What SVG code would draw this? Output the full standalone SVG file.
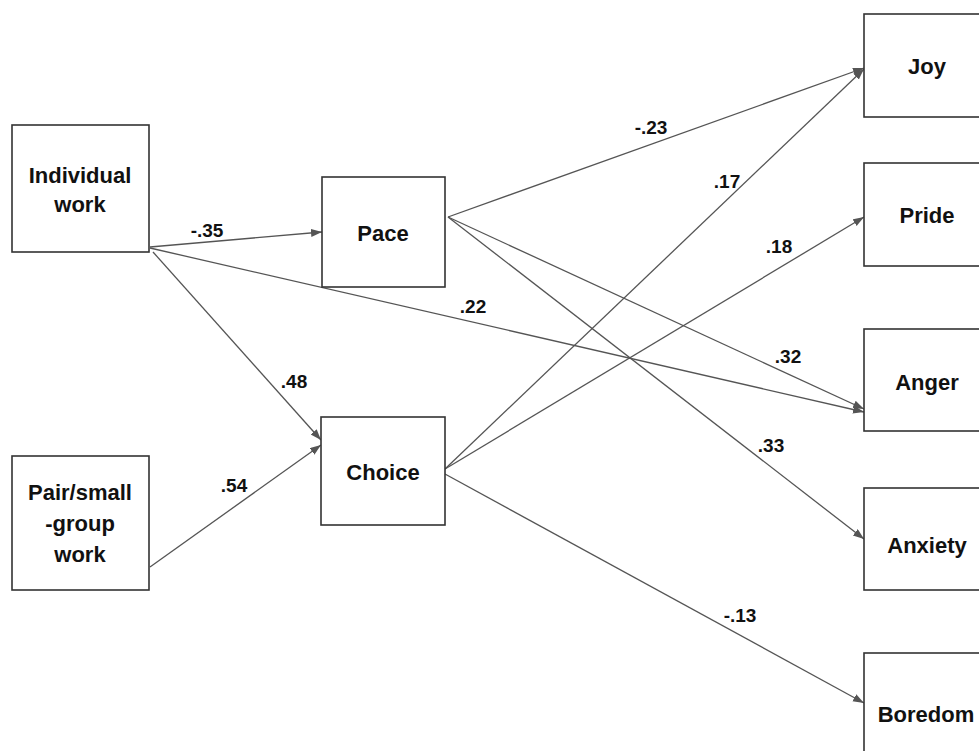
<svg xmlns="http://www.w3.org/2000/svg" width="979" height="751" viewBox="0 0 979 751">
<style>
.box{fill:#fff;stroke:#333;stroke-width:1.6}
.t{font-family:"Liberation Sans",Arial,sans-serif;font-weight:bold;font-size:22px;fill:#111;text-anchor:middle}
.l{font-family:"Liberation Sans",Arial,sans-serif;font-weight:bold;font-size:19px;fill:#111;text-anchor:middle}
.c{stroke:#555;stroke-width:1.3;fill:none}
.ca{stroke:#555;stroke-width:1.3;fill:none;marker-end:url(#ah)}
</style>
<defs>
<marker id="ah" markerUnits="userSpaceOnUse" markerWidth="12" markerHeight="10" refX="11" refY="4" orient="auto">
<path d="M0,0 L11,4 L0,8 Z" fill="#555"/>
</marker>
</defs>
<rect width="979" height="751" fill="#fff"/>
<g id="connectors">
<line class="ca" x1="150" y1="247" x2="322" y2="232"/>
<line class="ca" x1="150" y1="248" x2="864" y2="412"/>
<line class="ca" x1="153" y1="252" x2="321" y2="440"/>
<line class="ca" x1="150" y1="567" x2="321" y2="445"/>
<line class="ca" x1="448" y1="217" x2="864" y2="68"/>
<line class="ca" x1="448" y1="217" x2="864" y2="409"/>
<line class="ca" x1="448" y1="217" x2="864" y2="539"/>
<line class="ca" x1="445" y1="469" x2="864" y2="69"/>
<line class="ca" x1="445" y1="469" x2="864" y2="217"/>
<line class="ca" x1="445" y1="474" x2="864" y2="703"/>
</g>
<g id="labels">
<text class="l" x="207" y="237">-.35</text>
<text class="l" x="473" y="313">.22</text>
<text class="l" x="294" y="388">.48</text>
<text class="l" x="234" y="492">.54</text>
<text class="l" x="651" y="134">-.23</text>
<text class="l" x="727" y="188">.17</text>
<text class="l" x="779" y="253">.18</text>
<text class="l" x="788" y="363">.32</text>
<text class="l" x="771" y="452">.33</text>
<text class="l" x="740" y="622">-.13</text>
</g>
<g id="individual-work">
<rect class="box" x="12" y="125" width="137" height="127"/>
<text class="t" x="80" y="183">Individual</text>
<text class="t" x="80" y="212">work</text>
</g>
<g id="pair-small-group-work">
<rect class="box" x="12" y="456" width="137" height="134"/>
<text class="t" x="80" y="500">Pair/small</text>
<text class="t" x="80" y="531">-group</text>
<text class="t" x="80" y="562">work</text>
</g>
<g id="pace">
<rect class="box" x="322" y="177" width="123" height="110"/>
<text class="t" x="383" y="241">Pace</text>
</g>
<g id="choice">
<rect class="box" x="321" y="417" width="124" height="108"/>
<text class="t" x="383" y="480">Choice</text>
</g>
<g id="joy">
<rect class="box" x="864" y="14" width="130" height="103"/>
<text class="t" x="927" y="74">Joy</text>
</g>
<g id="pride">
<rect class="box" x="864" y="163" width="130" height="103"/>
<text class="t" x="927" y="223">Pride</text>
</g>
<g id="anger">
<rect class="box" x="864" y="329" width="130" height="102"/>
<text class="t" x="927" y="390">Anger</text>
</g>
<g id="anxiety">
<rect class="box" x="864" y="488" width="130" height="102"/>
<text class="t" x="927" y="553">Anxiety</text>
</g>
<g id="boredom">
<rect class="box" x="864" y="653" width="130" height="110"/>
<text class="t" x="926" y="722">Boredom</text>
</g>
</svg>
